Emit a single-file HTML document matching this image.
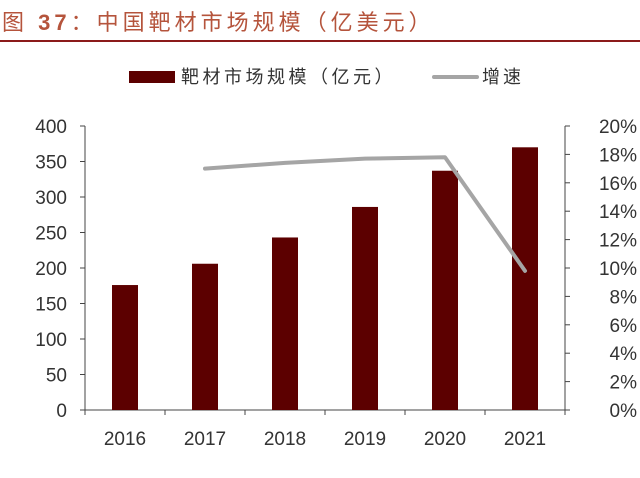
<!DOCTYPE html>
<html><head><meta charset="utf-8"><style>
body{margin:0;background:#fff;width:640px;height:473px;overflow:hidden;font-family:"Liberation Sans","Noto Sans CJK SC",sans-serif;}
</style></head><body>
<svg width="640" height="473" xmlns="http://www.w3.org/2000/svg" id="chart">
<text x="2" y="30" font-size="22" letter-spacing="4" fill="#b5543c" font-family="Liberation Sans,Noto Sans CJK SC,sans-serif">图 <tspan font-weight="bold">37</tspan>：中国靶材市场规模（亿美元）</text>
<rect x="0" y="40" width="640" height="2" fill="#8b1a1a"/>
<g>
<rect x="129" y="71" width="46" height="12" fill="#5c0000"/>
<text x="181" y="83" font-size="18" letter-spacing="3.5" fill="#333">靶材市场规模（亿元）</text>
<rect x="432" y="75" width="47" height="4" rx="2" fill="#a5a5a5"/>
<text x="482" y="83" font-size="18" letter-spacing="3" fill="#333">增速</text>
</g>
<g id="axes"></g><g id="marks"></g>
</svg>
<script>
const years=["2016","2017","2018","2019","2020","2021"];
const market=[176,206,243,286,337,370];
const growth=[null,17.0,17.4,17.7,17.8,9.8];
const leftTicks=[0,50,100,150,200,250,300,350,400];
const rightTicks=[0,2,4,6,8,10,12,14,16,18,20];
const NS="http://www.w3.org/2000/svg";
const x0=85,x1=565,yb=410,yt=126;
const xs=i=>x0+40+i*80;
const yl=v=>yb-(v/400)*(yb-yt);
const yr=v=>yb-(v/20)*(yb-yt);
function mk(t,a,p){const e=document.createElementNS(NS,t);for(const k in a)e.setAttribute(k,a[k]);p.appendChild(e);return e;}
const ax=document.getElementById('axes'),mg=document.getElementById('marks');
let e;
e=mk('line',{x1:x0,y1:yt,x2:x0,y2:yb,stroke:'#444','stroke-width':1},ax);


e=mk('line',{x1:x1,y1:yt,x2:x1,y2:yb,stroke:'#444','stroke-width':1},ax);


e=mk('line',{x1:x0,y1:yb,x2:x1,y2:yb,stroke:'#444','stroke-width':1},ax);


leftTicks.forEach(v=>{const y=yl(v);
mk('line',{x1:x0-5,y1:y,x2:x0,y2:y,stroke:'#444'},ax);
e=mk('text',{x:x0-18,y:y+7,'font-size':19,'text-anchor':'end',fill:'#333'},ax);e.textContent=v;

});
rightTicks.forEach(v=>{const y=yr(v);
mk('line',{x1:x1,y1:y,x2:x1+5,y2:y,stroke:'#444'},ax);
e=mk('text',{x:x1+72,y:y+7,'font-size':19,'text-anchor':'end',fill:'#333'},ax);e.textContent=v+'%';

});
years.forEach((yv,i)=>{
mk('line',{x1:xs(i)+40,y1:yb,x2:xs(i)+40,y2:yb+5,stroke:'#444'},ax);
e=mk('text',{x:xs(i),y:yb+35,'font-size':19,'text-anchor':'middle',fill:'#333'},ax);e.textContent=yv;


e=mk('rect',{x:xs(i)-13,y:yl(market[i]),width:26,height:yb-yl(market[i]),fill:'#5c0000'},mg);

});
mk('line',{x1:x0,y1:yb,x2:x0,y2:yb+5,stroke:'#444'},ax);
const pts=growth.map((g,i)=>g==null?null:xs(i)+','+yr(g)).filter(Boolean).join(' ');
e=mk('polyline',{points:pts,fill:'none',stroke:'#a5a5a5','stroke-width':4,'stroke-linejoin':'round','stroke-linecap':'round'},mg);


</script>
</body></html>
